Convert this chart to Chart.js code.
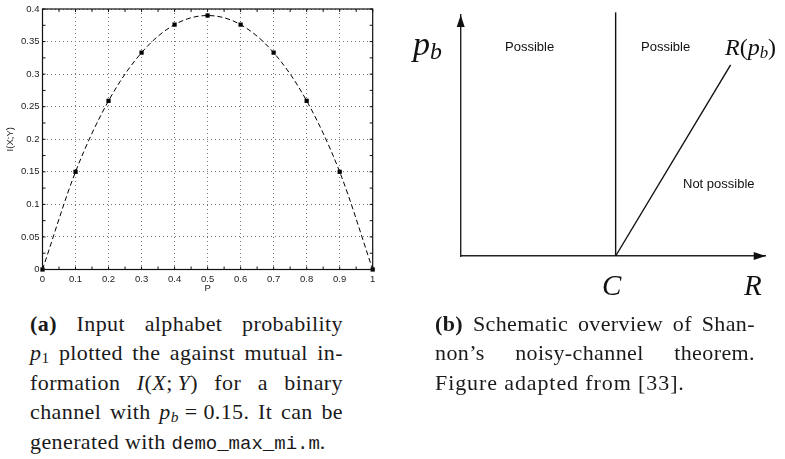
<!DOCTYPE html>
<html>
<head>
<meta charset="utf-8">
<script src="https://cdn.jsdelivr.net/npm/chart.js@4.4.0/dist/chart.umd.min.js"></script>
<style>
  html, body { margin: 0; padding: 0; background: #fff; }
  body { width: 785px; height: 459px; position: relative; overflow: hidden; }
  canvas { position: absolute; }
  #chartA { left: 0; top: 0; }
  #chartB { left: 400px; top: 0; }
  .lbl { position: absolute; white-space: nowrap; line-height: 1; color: #111; }
  .sans { font-family: "Liberation Sans", Arial, sans-serif; font-size: 13px; }
  .math { font-family: "Liberation Serif", serif; font-style: italic; }
  .math sub { font-size: 0.7em; vertical-align: -0.18em; line-height: 0; }
  .up { font-style: normal; }
  .cap { position: absolute; font-family: "Liberation Serif", serif; font-size: 22px; line-height: 29.5px; color: #1a1a1a; letter-spacing: 0.4px; }
  .cap .j { display: flex; justify-content: space-between; white-space: nowrap; height: 29.5px; }
  .cap .l { white-space: nowrap; height: 29.5px; }
  .cap sub { font-size: 0.7em; vertical-align: -0.2em; line-height: 0; }
  .cap code { font-family: "Liberation Mono", monospace; font-size: 19px; letter-spacing: 0; }
</style>
</head>
<body>
<canvas id="chartA" width="390" height="300"></canvas>
<canvas id="chartB" width="385" height="300"></canvas>

<!-- labels of the schematic (b) -->
<span class="lbl math" style="left:413px; top:26.5px; font-size:34px;">p<sub>b</sub></span>
<span class="lbl sans" style="left:505px; top:40px;">Possible</span>
<span class="lbl sans" style="left:641px; top:40px;">Possible</span>
<span class="lbl math" style="left:725px; top:35px; font-size:24px;">R<span class="up">(</span>p<sub>b</sub><span class="up">)</span></span>
<span class="lbl sans" style="left:683px; top:176.7px;">Not possible</span>
<span class="lbl math" style="left:602px; top:270.7px; font-size:29px;">C</span>
<span class="lbl math" style="left:744px; top:270.7px; font-size:29px;">R</span>

<!-- captions -->
<div class="cap" style="left:30px; top:308.8px; width:313px;">
  <div class="j"><span><b>(a)</b></span><span>Input</span><span>alphabet</span><span>probability</span></div>
  <div class="j"><span><i>p</i><sub>1</sub></span><span>plotted</span><span>the</span><span>against</span><span>mutual</span><span>in-</span></div>
  <div class="j"><span>formation</span><span><i>I</i>(<i>X</i>;&#8201;<i>Y</i>)</span><span>for</span><span>a</span><span>binary</span></div>
  <div class="j"><span>channel</span><span>with</span><span><i>p</i><sub><i>b</i></sub> = 0.15.</span><span>It</span><span>can</span><span>be</span></div>
  <div class="l">generated with <code>demo_max_mi.m</code>.</div>
</div>
<div class="cap" style="left:435px; top:308.8px; width:320px;">
  <div class="j"><span><b>(b)</b></span><span>Schematic</span><span>overview</span><span>of</span><span>Shan-</span></div>
  <div class="j"><span>non’s</span><span>noisy-channel</span><span>theorem.</span></div>
  <div class="l" style="letter-spacing:0.9px;">Figure adapted from [33].</div>
</div>

<script>
// Data (a): mutual information vs input probability, p_b = 0.15
const pValues = [0, 0.1, 0.2, 0.3, 0.4, 0.5, 0.6, 0.7, 0.8, 0.9, 1];
const miValues = [0, 0.150, 0.259, 0.333, 0.376, 0.390, 0.376, 0.333, 0.259, 0.150, 0];
const xTickStep = 0.1;
const yTickStep = 0.05;

// Data (b): schematic, both axes run 0..1
const boundaryR = [0.508, 0.508];   // vertical line at C
const boundaryPb = [0, 1.011];
const rateR = [0.508, 0.885];       // R(p_b) line
const ratePb = [0, 0.793];

const SANS = '"Liberation Sans", Arial, Helvetica, sans-serif';
const toPoints = (xs, ys) => xs.map((x, i) => ({ x: x, y: ys[i] }));
const shortNum = v => String(parseFloat(Number(v).toFixed(3))); // 0.40 -> 0.4, 1.0 -> 1

// Frame and inward MATLAB-like ticks on all four sides
const frameTicks = {
  id: 'frameTicks',
  afterDraw(chart) {
    const { ctx, chartArea: a, scales: { x, y } } = chart;
    ctx.save();
    ctx.strokeStyle = '#111';
    ctx.lineWidth = 1.2;
    ctx.strokeRect(a.left, a.top, a.right - a.left, a.bottom - a.top);
    ctx.lineWidth = 1;
    ctx.beginPath();
    for (let v = x.min; v <= x.max + 1e-9; v += xTickStep / 2) {
      const px = x.getPixelForValue(v);
      ctx.moveTo(px, a.bottom); ctx.lineTo(px, a.bottom - 3);
      ctx.moveTo(px, a.top); ctx.lineTo(px, a.top + 3);
    }
    for (let v = y.min; v <= y.max + 1e-9; v += yTickStep / 2) {
      const py = y.getPixelForValue(v);
      ctx.moveTo(a.left, py); ctx.lineTo(a.left + 3, py);
      ctx.moveTo(a.right, py); ctx.lineTo(a.right - 3, py);
    }
    ctx.stroke();
    ctx.restore();
  }
};

// Arrow heads at the ends of the schematic's axes
const arrowHeads = {
  id: 'arrowHeads',
  afterDraw(chart) {
    const { ctx, chartArea: a } = chart;
    ctx.save();
    ctx.fillStyle = '#111';
    ctx.beginPath();
    ctx.moveTo(a.left, a.top);
    ctx.lineTo(a.left - 4, a.top + 12);
    ctx.lineTo(a.left + 4, a.top + 12);
    ctx.closePath();
    ctx.moveTo(a.right, a.bottom);
    ctx.lineTo(a.right - 12, a.bottom - 4);
    ctx.lineTo(a.right - 12, a.bottom + 4);
    ctx.closePath();
    ctx.fill();
    ctx.restore();
  }
};

const tickFont = { family: SANS, size: 9.5 };

const chartA = new Chart(document.getElementById('chartA'), {
  type: 'line',
  data: {
    datasets: [{
      data: toPoints(pValues, miValues),
      borderColor: '#000',
      borderWidth: 1,
      borderDash: [5, 3],
      cubicInterpolationMode: 'monotone',
      pointStyle: 'rect',
      pointRadius: 3,
      pointBackgroundColor: '#000',
      pointBorderWidth: 0,
      clip: false
    }]
  },
  options: {
    responsive: false,
    animation: false,
    layout: { padding: { top: 9, right: 17.3, left: 0, bottom: 0 } },
    plugins: { legend: { display: false }, tooltip: { enabled: false } },
    scales: {
      x: {
        type: 'linear', min: 0, max: 1,
        ticks: { stepSize: xTickStep, font: tickFont, color: '#222', padding: 4, maxRotation: 0, autoSkip: false, callback: shortNum },
        grid: { drawTicks: false, color: '#777', borderDash: [1, 3] },
        border: { display: false, dash: [1, 3] },
        title: { display: true, text: 'P', font: tickFont, color: '#222', padding: { top: 0, bottom: 6.4 } },
        afterFit(s) { s.height = 30.5; s.paddingLeft = 0; s.paddingRight = 0; }
      },
      y: {
        type: 'linear', min: 0, max: 0.4,
        ticks: { stepSize: yTickStep, font: tickFont, color: '#222', padding: 3, callback: shortNum },
        grid: { drawTicks: false, color: '#777', borderDash: [1, 3] },
        border: { display: false, dash: [1, 3] },
        title: { display: true, text: 'I(X;Y)', font: tickFont, color: '#222', padding: { top: 4.3, bottom: 0 } },
        afterFit(s) { s.width = 42.5; s.paddingTop = 0; s.paddingBottom = 0; }
      }
    }
  },
  plugins: [frameTicks]
});

const chartB = new Chart(document.getElementById('chartB'), {
  type: 'scatter',
  data: {
    datasets: [
      { data: toPoints(boundaryR, boundaryPb), showLine: true, borderColor: '#111', borderWidth: 1.4, pointRadius: 0, clip: false },
      { data: toPoints(rateR, ratePb), showLine: true, borderColor: '#111', borderWidth: 1.4, pointRadius: 0, clip: false }
    ]
  },
  options: {
    responsive: false,
    animation: false,
    layout: { padding: { left: 60.7, top: 15, right: 19.3, bottom: 44 } },
    plugins: { legend: { display: false }, tooltip: { enabled: false } },
    scales: {
      x: {
        type: 'linear', min: 0, max: 1,
        ticks: { display: false },
        grid: { display: false, drawTicks: false },
        border: { display: true, color: '#222', width: 1.4 },
        afterFit(s) { s.height = 0; s.paddingLeft = 0; s.paddingRight = 0; }
      },
      y: {
        type: 'linear', min: 0, max: 1,
        ticks: { display: false },
        grid: { display: false, drawTicks: false },
        border: { display: true, color: '#222', width: 1.4 },
        afterFit(s) { s.width = 0; s.paddingTop = 0; s.paddingBottom = 0; }
      }
    }
  },
  plugins: [arrowHeads]
});
</script>
</body>
</html>
